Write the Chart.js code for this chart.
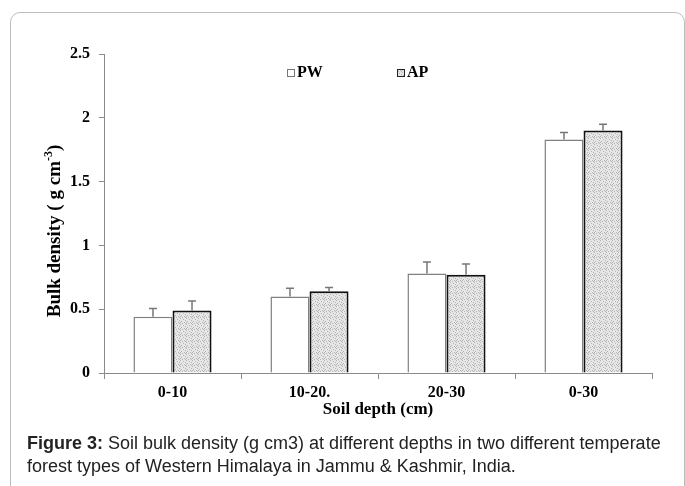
<!DOCTYPE html>
<html>
<head>
<meta charset="utf-8">
<script src="https://cdn.jsdelivr.net/npm/chart.js@4.4.1/dist/chart.umd.min.js"></script>
<style>
  body { margin: 0; background: #fff; }
  #wrap { position: relative; width: 685px; height: 486px; overflow: hidden; }
  #frame { position: absolute; left: 10px; top: 12px; width: 675px; height: 520px;
           border: 1px solid #bdbdbd; border-radius: 10px; box-sizing: border-box; }
  #myChartBar { position: absolute; left: 0; top: 0; }
  #caption { position: absolute; left: 27px; top: 432px; font-family: "Liberation Sans", Arial, sans-serif;
             font-size: 18px; line-height: 23px; color: #222; white-space: nowrap; }
</style>
</head>
<body>
<div id="wrap">
  <div id="frame"></div>
  <canvas id="myChartBar" width="685" height="486"></canvas>
  <div id="caption"><b>Figure 3:</b> Soil bulk density (g cm3) at different depths in two different temperate<br>forest types of Western Himalaya in Jammu &amp; Kashmir, India.</div>
</div>
<script>
const depths = ['0-10', '10-20.', '20-30', '0-30'];
const pwValues = [0.44, 0.60, 0.78, 1.83];
const pwErrors = [0.065, 0.065, 0.09, 0.055];
const apValues = [0.49, 0.64, 0.77, 1.90];
const apErrors = [0.075, 0.03, 0.085, 0.05];

const serif = '"Liberation Serif", "Times New Roman", serif';

// stipple fill for the AP bars
function stipple() {
  const c = document.createElement('canvas');
  c.width = 6; c.height = 6;
  const g = c.getContext('2d');
  g.fillStyle = '#e6e6e6';
  g.fillRect(0, 0, 6, 6);
  g.fillStyle = '#b4b4b4';
  [[0, 0], [3, 1], [5, 2], [1, 3], [4, 4], [2, 5], [0, 4], [5, 5]].forEach(p => g.fillRect(p[0], p[1], 1, 1));
  return g.createPattern(c, 'repeat');
}
const apFill = stipple();

const errorBars = {
  id: 'errorBars',
  afterDatasetsDraw(chart) {
    const ctx = chart.ctx;
    const y = chart.scales.y;
    const errs = [pwErrors, apErrors];
    ctx.save();
    ctx.strokeStyle = '#777';
    ctx.lineWidth = 1.5;
    chart.data.datasets.forEach((ds, i) => {
      chart.getDatasetMeta(i).data.forEach((bar, j) => {
        const top = y.getPixelForValue(ds.data[j] + errs[i][j]);
        ctx.beginPath();
        ctx.moveTo(bar.x, bar.y);
        ctx.lineTo(bar.x, top);
        ctx.moveTo(bar.x - 4, top);
        ctx.lineTo(bar.x + 4, top);
        ctx.stroke();
      });
    });
    ctx.restore();
  }
};

const extras = {
  id: 'extras',
  afterDraw(chart) {
    const ctx = chart.ctx;
    const area = chart.chartArea;
    ctx.save();
    ctx.textBaseline = 'middle';
    // legend
    ctx.font = 'bold 16px ' + serif;
    ctx.lineWidth = 1;
    ctx.fillStyle = '#fff';
    ctx.strokeStyle = '#777';
    ctx.fillRect(287.5, 69.5, 7, 7);
    ctx.strokeRect(287.5, 69.5, 7, 7);
    ctx.fillStyle = '#000';
    ctx.fillText('PW', 297, 73);
    ctx.fillStyle = apFill;
    ctx.fillRect(397.5, 69.5, 7, 7);
    ctx.strokeStyle = '#222';
    ctx.strokeRect(397.5, 69.5, 7, 7);
    ctx.fillStyle = '#000';
    ctx.fillText('AP', 407, 73);
    // x title
    ctx.textAlign = 'center';
    ctx.font = 'bold 17px ' + serif;
    ctx.fillText('Soil depth (cm)', (area.left + area.right) / 2, 410);
    // y title with superscript
    ctx.translate(55, 231);
    ctx.rotate(-Math.PI / 2);
    const main = 'Bulk density ( g cm';
    const big = 'bold 19px ' + serif;
    const small = 'bold 12px ' + serif;
    ctx.font = big;
    const w1 = ctx.measureText(main).width;
    const w3 = ctx.measureText(')').width;
    ctx.font = small;
    const w2 = ctx.measureText('-3').width;
    let x = -(w1 + w2 + w3) / 2;
    ctx.textAlign = 'left';
    ctx.font = big;
    ctx.fillText(main, x, 0);
    x += w1;
    ctx.font = small;
    ctx.fillText('-3', x, -6);
    x += w2;
    ctx.font = big;
    ctx.fillText(')', x, 0);
    ctx.restore();
  }
};

new Chart(document.getElementById('myChartBar'), {
  type: 'bar',
  data: {
    labels: depths,
    datasets: [{
      label: 'PW',
      data: pwValues,
      backgroundColor: '#fff',
      borderColor: '#808080',
      borderWidth: 1.5,
      borderSkipped: 'bottom'
    }, {
      label: 'AP',
      data: apValues,
      backgroundColor: apFill,
      borderColor: '#111',
      borderWidth: 2,
      borderSkipped: 'bottom'
    }]
  },
  options: {
    responsive: false,
    animation: false,
    events: [],
    layout: { padding: { top: 54, right: 33, left: 0, bottom: 0 } },
    datasets: { bar: { categoryPercentage: 0.57, barPercentage: 1 } },
    plugins: { legend: { display: false }, tooltip: { enabled: false } },
    scales: {
      x: {
        afterFit: s => { s.height = 113; },
        border: { color: '#8a8a8a', width: 1 },
        grid: { offset: true, drawOnChartArea: false, tickLength: 6, color: '#8a8a8a' },
        ticks: { color: '#000', padding: 4, font: { family: serif, size: 16, weight: 'bold' } }
      },
      y: {
        min: 0,
        max: 2.5,
        afterFit: s => { s.width = 104; },
        border: { color: '#8a8a8a', width: 1 },
        grid: { drawOnChartArea: false, tickLength: 5, color: '#8a8a8a' },
        ticks: {
          stepSize: 0.5,
          color: '#000',
          padding: 9,
          font: { family: serif, size: 16, weight: 'bold' },
          callback: v => String(v)
        }
      }
    }
  },
  plugins: [errorBars, extras]
});
</script>
</body>
</html>
